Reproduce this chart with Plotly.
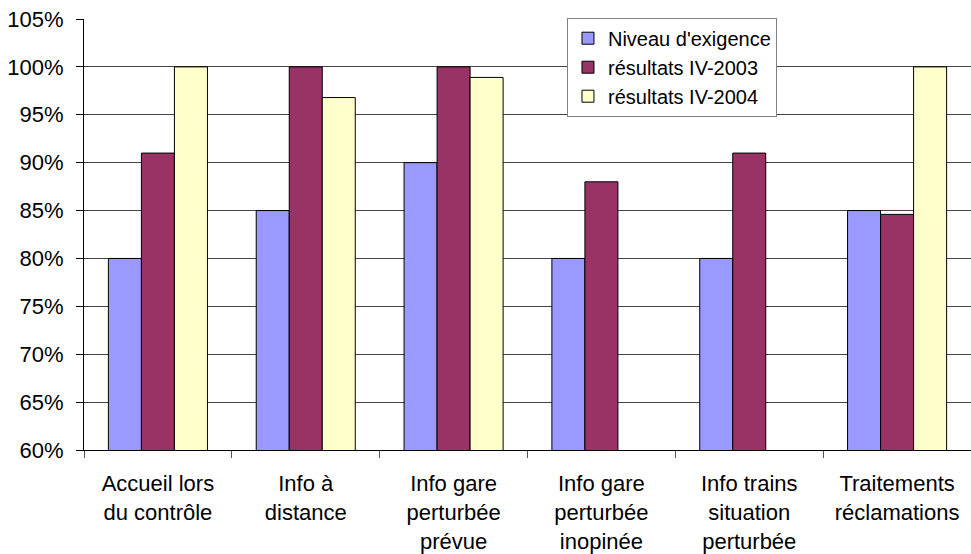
import plotly.graph_objects as go

# Categories (two/three-line labels) and the three series, as fractions
categories = [
    "Accueil lors<br>du contrôle",
    "Info à<br>distance",
    "Info gare<br>perturbée<br>prévue",
    "Info gare<br>perturbée<br>inopinée",
    "Info trains<br>situation<br>perturbée",
    "Traitements<br>réclamations",
]
niveau_exigence = [0.80, 0.85, 0.90, 0.80, 0.80, 0.85]
resultats_2003 = [0.91, 1.00, 1.00, 0.88, 0.91, 0.846]
resultats_2004 = [1.00, 0.968, 0.989, None, None, 1.00]

series = [
    ("Niveau d'exigence", niveau_exigence, "#9999FF"),
    ("résultats IV-2003", resultats_2003, "#993366"),
    ("résultats IV-2004", resultats_2004, "#FFFFCC"),
]

font_family = "Liberation Sans, Arial, sans-serif"

fig = go.Figure()
for name, values, color in series:
    fig.add_trace(go.Bar(
        name=name,
        x=categories,
        y=values,
        marker=dict(color=color, line=dict(color="#000000", width=1)),
    ))

fig.update_layout(
    width=971,
    height=554,
    margin=dict(l=84, r=0, t=19, b=102),
    paper_bgcolor="white",
    plot_bgcolor="white",
    barmode="group",
    bargap=0.33,
    bargroupgap=0,
    font=dict(family=font_family, size=21, color="#000000"),
    showlegend=True,
    legend=dict(
        x=0.5445, y=1.003, xanchor="left", yanchor="top",
        bgcolor="white", bordercolor="#808080", borderwidth=1,
        font=dict(family=font_family, size=20, color="#000000"),
        itemwidth=30,
        tracegroupgap=0,
    ),
)

fig.update_yaxes(
    range=[0.60, 1.05],
    dtick=0.05,
    tick0=0.60,
    tickformat=".0%",
    showgrid=True,
    gridcolor="#444444",
    gridwidth=1,
    showline=True,
    linecolor="#000000",
    linewidth=1,
    ticks="outside",
    ticklen=7,
    tickcolor="#000000",
    zeroline=False,
    ticklabelstandoff=8,
    tickfont=dict(family=font_family, size=22, color="#000000"),
)

fig.update_xaxes(
    showline=True,
    linecolor="#000000",
    linewidth=1,
    ticks="outside",
    tickson="boundaries",
    ticklen=7,
    tickcolor="#555555",
    showgrid=False,
    ticklabelstandoff=14,
    tickfont=dict(family=font_family, size=22, color="#000000"),
)

fig.write_html("out.html")
